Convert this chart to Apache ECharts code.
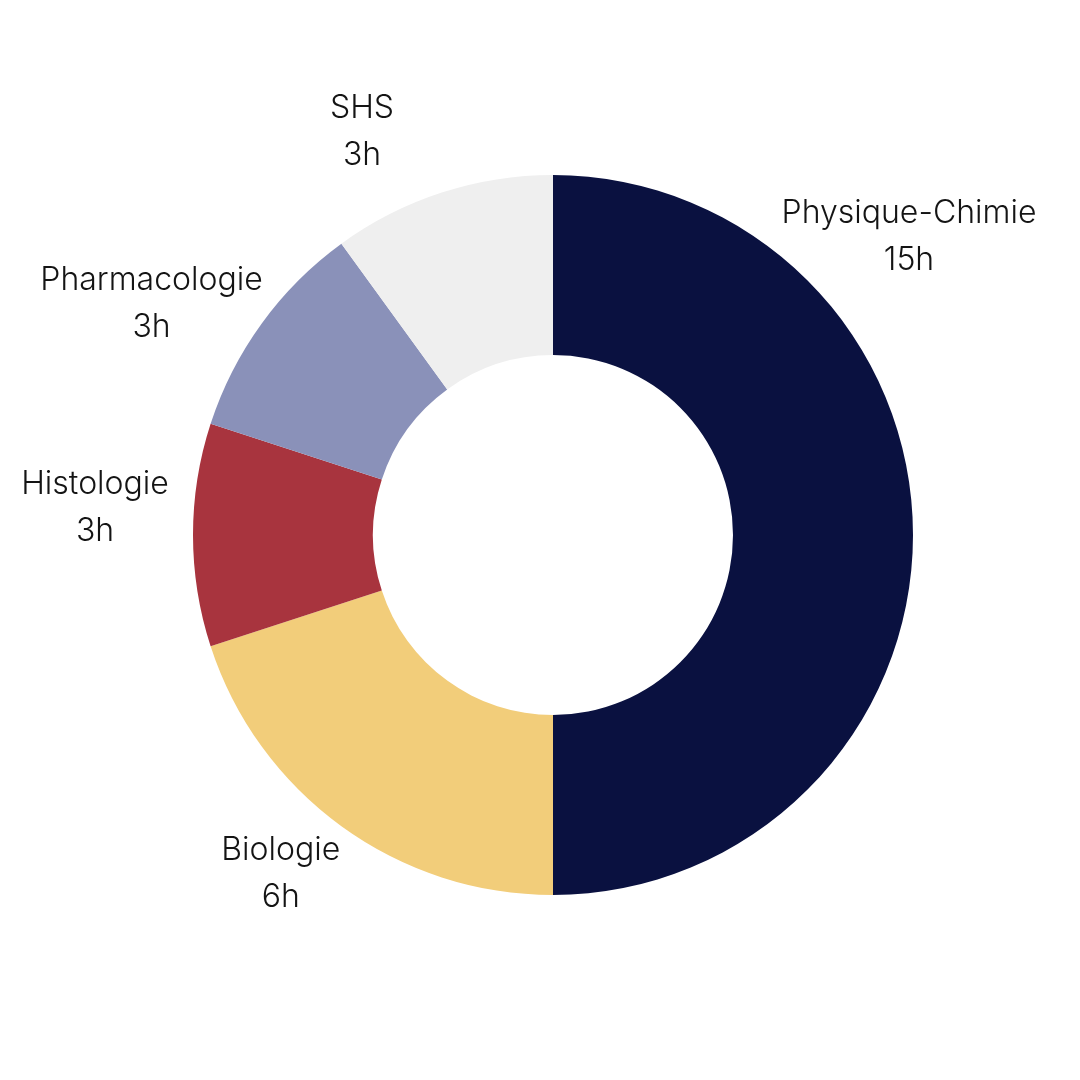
<!DOCTYPE html>
<html>
<head>
<meta charset="utf-8">
<script src="https://cdn.jsdelivr.net/npm/echarts@6/dist/echarts.min.js"></script>
<style>html,body{margin:0;padding:0;background:#fff}#c{width:1080px;height:1080px}</style>
</head>
<body>
<div id="c"></div>
<script>
const categories = ['Physique-Chimie', 'Biologie', 'Histologie', 'Pharmacologie', 'SHS'];
const hours = [15, 6, 3, 3, 3];
const colors = ['#0a1140', '#f2cd7a', '#a8343e', '#8a91b9', '#efefef'];
const labelOffsets = [[-97, -298], [-6, -28], [-5, -27], [-35, 35], [-51, 28]];

const chart = echarts.init(document.getElementById('c'), null, {renderer: 'canvas'});
const center = [553, 535];
const mainData = categories.map((n, i) => ({name: n, value: hours[i], itemStyle: {color: colors[i]}}));
const labelData = categories.map((n, i) => ({
  name: n, value: hours[i],
  label: {offset: labelOffsets[i]}
}));
chart.setOption({
  backgroundColor: '#ffffff',
  animation: false,
  series: [
    {
      type: 'pie',
      center: center,
      radius: [180, 360],
      startAngle: 90,
      clockwise: true,
      silent: true,
      label: {show: false},
      labelLine: {show: false},
      itemStyle: {borderWidth: 0},
      emphasis: {disabled: true},
      data: mainData
    },
    {
      type: 'pie',
      center: center,
      radius: [400, 500],
      startAngle: 90,
      clockwise: true,
      silent: true,
      itemStyle: {color: 'rgba(0,0,0,0)', borderWidth: 0},
      emphasis: {disabled: true},
      labelLine: {show: false},
      label: {
        show: true,
        position: 'inside',
        rotate: 0,
        formatter: '{b}\n{c}h',
        fontFamily: 'Inter',
        fontWeight: 300,
        fontSize: 32,
        lineHeight: 47,
        color: '#141414',
        align: 'center'
      },
      data: labelData
    }
  ]
});
</script>
</body>
</html>
